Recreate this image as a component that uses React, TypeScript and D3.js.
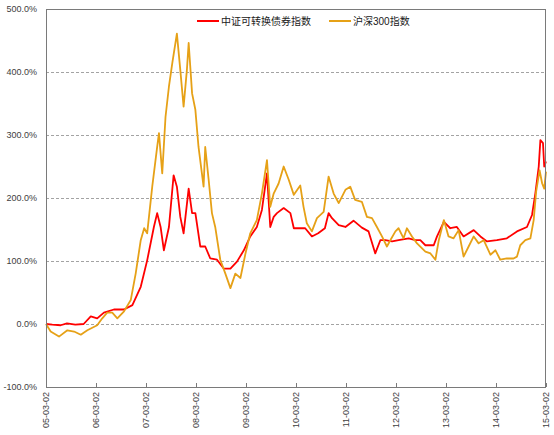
import { useEffect, useRef } from "react";
import * as d3 from "d3";

// 中证可转换债券指数 (cumulative return, %)
const cbDates = [
  "2005-03-02", "2005-04-17", "2005-06-17", "2005-08-02", "2005-10-02", "2005-12-02",
  "2006-01-23", "2006-03-11", "2006-04-29", "2006-07-11", "2006-09-23", "2006-11-23",
  "2007-01-23", "2007-03-11", "2007-04-29", "2007-05-23", "2007-06-17", "2007-07-11",
  "2007-08-17", "2007-09-20", "2007-10-14", "2007-11-08", "2007-12-02", "2008-01-08",
  "2008-02-02", "2008-02-26", "2008-04-02", "2008-05-08", "2008-06-14", "2008-08-02",
  "2008-09-20", "2008-11-08", "2008-12-26", "2009-02-14", "2009-04-02", "2009-05-20",
  "2009-06-26", "2009-08-02", "2009-08-26", "2009-09-20", "2009-10-14", "2009-12-02",
  "2010-01-20", "2010-02-14", "2010-04-02", "2010-05-08", "2010-06-26", "2010-08-11",
  "2010-09-29", "2010-10-26", "2010-11-20", "2011-01-08", "2011-02-26", "2011-04-26",
  "2011-06-26", "2011-08-14", "2011-10-02", "2011-11-08", "2011-12-14", "2012-02-02",
  "2012-03-20", "2012-06-02", "2012-07-20", "2012-08-26", "2012-10-02", "2012-12-02",
  "2012-12-26", "2013-02-14", "2013-04-02", "2013-05-20", "2013-07-08", "2013-09-20",
  "2013-11-08", "2013-12-26", "2014-03-08", "2014-05-20", "2014-08-02", "2014-10-14",
  "2014-11-20", "2014-12-14", "2015-01-08", "2015-01-20", "2015-02-08", "2015-02-17",
  "2015-03-02",
];
const cbValues = [
  0, -1, -2, 1, -1, 0,
  12, 9, 18, 23, 23, 30,
  59, 101, 154, 176, 154, 117,
  154, 236, 218, 170, 144, 215,
  176, 176, 123, 123, 104, 102,
  88, 88, 99, 117, 139, 154,
  181, 239, 154, 170, 176, 184,
  176, 152, 152, 152, 139, 144,
  152, 176, 168, 157, 154, 164,
  153, 147, 112, 133, 133, 131,
  133, 136, 133, 133, 125, 125,
  139, 162, 152, 154, 139, 149,
  139, 131, 133, 136, 147, 154,
  173, 207, 250, 292, 287, 250,
  258,
];

// 沪深300指数 (cumulative return, %)
const hsDates = [
  "2005-03-02", "2005-04-05", "2005-06-05", "2005-08-05", "2005-09-23", "2005-11-11",
  "2005-12-29", "2006-03-11", "2006-04-17", "2006-05-23", "2006-06-29", "2006-08-05",
  "2006-09-23", "2006-11-11", "2006-12-17", "2007-01-23", "2007-02-17", "2007-03-11",
  "2007-04-17", "2007-05-23", "2007-06-05", "2007-06-29", "2007-07-23", "2007-08-17",
  "2007-09-11", "2007-10-14", "2007-11-08", "2007-12-02", "2007-12-26", "2008-01-08",
  "2008-02-02", "2008-02-26", "2008-03-20", "2008-04-26", "2008-05-08", "2008-06-02",
  "2008-06-26", "2008-07-20", "2008-08-26", "2008-10-02", "2008-11-08", "2008-12-14",
  "2009-01-20", "2009-02-26", "2009-04-02", "2009-05-20", "2009-06-26", "2009-08-02",
  "2009-08-26", "2009-09-20", "2009-10-26", "2009-12-02", "2010-01-08", "2010-02-14",
  "2010-04-02", "2010-04-26", "2010-05-20", "2010-06-26", "2010-08-02", "2010-09-20",
  "2010-10-26", "2010-12-02", "2011-01-08", "2011-02-26", "2011-04-02", "2011-05-08",
  "2011-06-26", "2011-08-02", "2011-09-08", "2011-10-14", "2011-11-20", "2011-12-26",
  "2012-01-20", "2012-02-26", "2012-03-20", "2012-04-26", "2012-05-20", "2012-06-26",
  "2012-08-02", "2012-09-08", "2012-10-02", "2012-11-08", "2012-12-14", "2013-01-08",
  "2013-02-14", "2013-03-20", "2013-04-26", "2013-06-02", "2013-07-08", "2013-08-14",
  "2013-09-20", "2013-10-26", "2013-12-02", "2014-01-20", "2014-02-26", "2014-04-02",
  "2014-05-20", "2014-07-08", "2014-08-02", "2014-08-26", "2014-10-02", "2014-11-08",
  "2014-12-02", "2014-12-20", "2015-01-14", "2015-02-02", "2015-02-17", "2015-03-02",
];
const hsValues = [
  0, -12, -20, -10, -12, -17,
  -10, -2, 9, 18, 18, 9,
  20, 38, 80, 133, 152, 144,
  218, 281, 303, 239, 329, 377,
  415, 461, 403, 345, 403, 446,
  366, 340, 281, 218, 281, 229,
  176, 154, 102, 80, 57, 80,
  73, 112, 144, 165, 207, 260,
  186, 207, 223, 250, 229, 205,
  220, 186, 160, 147, 168, 178,
  234, 207, 192, 213, 218, 197,
  194, 170, 168, 154, 139, 123,
  133, 147, 152, 136, 152, 139,
  128, 120, 115, 112, 102, 133,
  165, 139, 136, 149, 107, 123,
  139, 128, 133, 110, 117, 102,
  104, 104, 107, 125, 133, 136,
  165, 210, 244, 223, 215, 242,
];

const yTicks = [-100, 0, 100, 200, 300, 400, 500];
const xTickDates = [
  "2005-03-02", "2006-03-02", "2007-03-02", "2008-03-02", "2009-03-02", "2010-03-02",
  "2011-03-02", "2012-03-02", "2013-03-02", "2014-03-02", "2015-03-02",
];

const seriesNames = ["中证可转换债券指数", "沪深300指数"];
const seriesColors = ["#FF0000", "#E6A117"];

type Pt = { d: Date; v: number };

export default function App() {
  const ref = useRef<SVGSVGElement>(null);

  useEffect(() => {
    if (!ref.current) return;
    const width = 554;
    const height = 435;
    const margin = { top: 9, right: 8, bottom: 48, left: 46 };
    const parse = d3.timeParse("%Y-%m-%d");

    const svg = d3.select(ref.current).attr("width", width).attr("height", height);
    svg.selectAll("*").remove();

    const x = d3
      .scaleTime()
      .domain([parse("2005-03-02")!, parse("2015-03-02")!])
      .range([margin.left, width - margin.right]);
    const y = d3
      .scaleLinear()
      .domain([-100, 500])
      .range([height - margin.bottom, margin.top]);

    const font = "'Liberation Sans', 'Noto Sans CJK SC', sans-serif";

    // dashed gridlines
    svg
      .append("g")
      .selectAll("line")
      .data(yTicks.filter((t) => t > -100 && t < 500))
      .join("line")
      .attr("x1", margin.left)
      .attr("x2", width - margin.right)
      .attr("y1", (d) => Math.round(y(d)) + 0.5)
      .attr("y2", (d) => Math.round(y(d)) + 0.5)
      .attr("stroke", "#8c8c8c")
      .attr("stroke-width", 0.8)
      .attr("stroke-dasharray", "3,2");

    // y labels
    svg
      .append("g")
      .selectAll("text")
      .data(yTicks)
      .join("text")
      .attr("x", margin.left - 9)
      .attr("y", (d) => y(d))
      .attr("dy", "0.35em")
      .attr("text-anchor", "end")
      .attr("font-family", font)
      .attr("font-size", 9)
      .attr("fill", "#404040")
      .text((d) => d.toFixed(1) + "%");

    const series = [
      { color: seriesColors[0], data: cbDates.map((d, i) => ({ d: parse(d)!, v: cbValues[i] })) },
      { color: seriesColors[1], data: hsDates.map((d, i) => ({ d: parse(d)!, v: hsValues[i] })) },
    ];

    const line = d3
      .line<Pt>()
      .x((p) => x(p.d))
      .y((p) => y(p.v));

    series.forEach((s) => {
      svg
        .append("path")
        .datum(s.data)
        .attr("fill", "none")
        .attr("stroke", s.color)
        .attr("stroke-width", 1.8)
        .attr("stroke-linejoin", "round")
        .attr("d", line);
    });

    // plot area border
    svg
      .append("rect")
      .attr("x", margin.left + 0.5)
      .attr("y", margin.top + 0.5)
      .attr("width", width - margin.left - margin.right - 1)
      .attr("height", height - margin.top - margin.bottom)
      .attr("fill", "none")
      .attr("stroke", "#7a7a7a")
      .attr("stroke-width", 1);

    // x ticks and labels
    const xt = xTickDates.map((d) => parse(d)!);
    const fmt = d3.timeFormat("%y-%m-%d");
    const xb = height - margin.bottom;
    svg
      .append("g")
      .selectAll("line")
      .data(xt)
      .join("line")
      .attr("x1", (d) => Math.round(x(d)) + 0.5)
      .attr("x2", (d) => Math.round(x(d)) + 0.5)
      .attr("y1", xb - 4)
      .attr("y2", xb)
      .attr("stroke", "#7a7a7a");
    svg
      .append("g")
      .selectAll("text")
      .data(xt)
      .join("text")
      .attr("transform", (d) => `translate(${x(d)},${xb + 5}) rotate(-90)`)
      .attr("dy", "0.35em")
      .attr("text-anchor", "end")
      .attr("font-family", font)
      .attr("font-size", 9)
      .attr("fill", "#404040")
      .text((d) => fmt(d));

    // legend
    const legendX = [197, 329];
    const legend = svg.append("g");
    seriesNames.forEach((name, i) => {
      legend
        .append("line")
        .attr("x1", legendX[i])
        .attr("x2", legendX[i] + 22)
        .attr("y1", 21)
        .attr("y2", 21)
        .attr("stroke", seriesColors[i])
        .attr("stroke-width", 2);
      legend
        .append("text")
        .attr("x", legendX[i] + 24)
        .attr("y", 21)
        .attr("dy", "0.35em")
        .attr("font-family", font)
        .attr("font-size", 10)
        .attr("fill", "#202020")
        .text(name);
    });
  }, []);

  return (
    <svg
      ref={ref}
      style={{ position: "absolute", left: 0, top: 0, background: "#fff" }}
    />
  );
}
